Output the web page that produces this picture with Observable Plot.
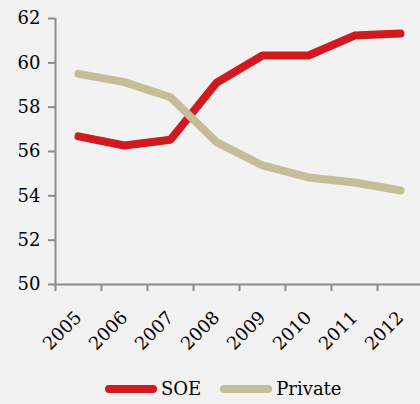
<!DOCTYPE html>
<html><head><meta charset="utf-8">
<script src="https://cdn.jsdelivr.net/npm/d3@7"></script>
<script src="https://cdn.jsdelivr.net/npm/@observablehq/plot@0.6"></script>
<style>
html,body{margin:0;padding:0;background:#f2f2f2;}
#chart{width:420px;height:404px;position:relative;overflow:hidden;background:#f2f2f2;}
#chart svg{display:block;}
.legend{position:absolute;top:377px;left:105px;display:flex;align-items:center;font-family:"DejaVu Serif",serif;font-size:18px;color:#000;line-height:24px;}
.sw{display:inline-block;width:52px;height:8px;border-radius:4px;margin-right:4px;}
.item{display:flex;align-items:center;margin-right:19px;}
</style>
</head><body>
<div id="chart"></div>
<script>
const years = [2005, 2006, 2007, 2008, 2009, 2010, 2011, 2012];
const soe = [56.68, 56.27, 56.53, 59.1, 60.33, 60.33, 61.23, 61.32];
const priv = [59.5, 59.13, 58.45, 56.42, 55.37, 54.83, 54.6, 54.24];
const seriesNames = ["SOE", "Private"];
const seriesColors = ["#d1191f", "#c5bd97"];
const yTicks = [50, 52, 54, 56, 58, 60, 62];

const rows = [];
years.forEach((y, i) => {
  rows.push({year: y, series: "SOE", value: soe[i]});
  rows.push({year: y, series: "Private", value: priv[i]});
});
const bounds = years.map(y => y - 0.5).concat([years[years.length - 1] + 0.5]);
const axisColor = "#8c8c8c";

const chart = Plot.plot({
  width: 420,
  height: 370,
  marginTop: 18,
  marginBottom: 86,
  marginLeft: 55,
  marginRight: 0,
  style: {background: "transparent", fontFamily: "DejaVu Serif, serif", fontSize: "18px", color: "#000"},
  x: {domain: [bounds[0], bounds[bounds.length - 1]], range: [55, 423]},
  y: {domain: [yTicks[0], yTicks[yTicks.length - 1]]},
  marks: [
    Plot.ruleY([yTicks[0]], {stroke: axisColor, strokeWidth: 2}),
    Plot.ruleX([bounds[0]], {stroke: axisColor, strokeWidth: 2}),
    Plot.axisY(yTicks, {tickSize: 7, tickPadding: 8, stroke: axisColor, strokeWidth: 2, fill: "#000", tickFormat: d => String(d), label: null}),
    Plot.axisX(bounds, {tickSize: 7, stroke: axisColor, strokeWidth: 2, tickFormat: () => "", label: null}),
    Plot.axisX(years, {tickSize: 0, tickPadding: 30, tickRotate: -45, fill: "#000", tickFormat: d => String(d), label: null}),
    Plot.line(rows.filter(d => d.series === "SOE"), {x: "year", y: "value", stroke: seriesColors[0], strokeWidth: 8, strokeLinecap: "round", strokeLinejoin: "miter"}),
    Plot.line(rows.filter(d => d.series === "Private"), {x: "year", y: "value", stroke: seriesColors[1], strokeWidth: 8, strokeLinecap: "round", strokeLinejoin: "miter"})
  ]
});
const host = document.getElementById("chart");
host.appendChild(chart);
const leg = document.createElement("div");
leg.className = "legend";
seriesNames.forEach((n, i) => {
  const it = document.createElement("span");
  it.className = "item";
  const sw = document.createElement("span");
  sw.className = "sw";
  sw.style.background = seriesColors[i];
  it.appendChild(sw);
  it.appendChild(document.createTextNode(n));
  leg.appendChild(it);
});
host.appendChild(leg);
</script>
</body></html>
